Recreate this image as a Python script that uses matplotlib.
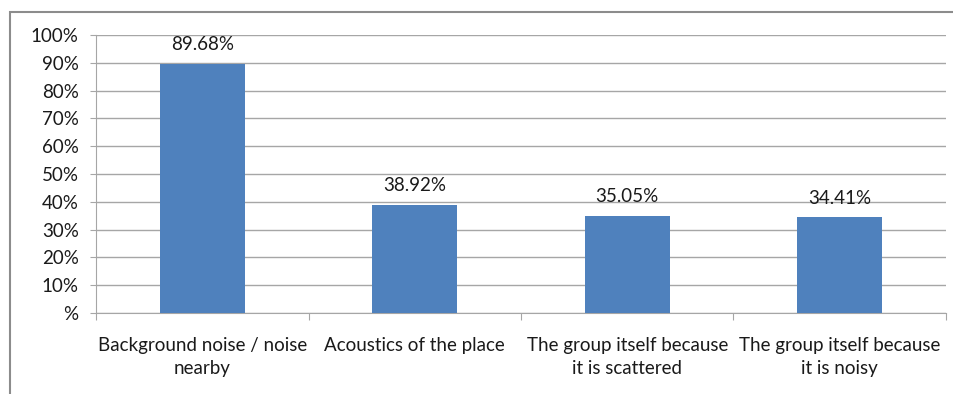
import matplotlib.pyplot as plt
from matplotlib.patches import Rectangle

categories = ['Background noise / noise\nnearby', 'Acoustics of the place',
              'The group itself because\nit is scattered', 'The group itself because\nit is noisy']
values = [89.68, 38.92, 35.05, 34.41]
yticks = [0, 10, 20, 30, 40, 50, 60, 70, 80, 90, 100]
ytick_labels = ['%'] + ['%d%%' % t for t in yticks[1:]]

plt.rcParams['font.family'] = ['Lato', 'DejaVu Sans']

W, H = 954, 394
fig = plt.figure(figsize=(W / 100, H / 100), dpi=100)
ax = fig.add_axes([96 / W, 1 - 313 / H, (946 - 96) / W, (313 - 35) / H])

# outer chart frame (cut off on the right and bottom)
fig.patches.append(Rectangle((10 / W, -0.1), 1.2, 1 - 12 / H + 0.1, transform=fig.transFigure,
                             fill=False, edgecolor='#8c8c8c', linewidth=1.5))

grid_color = '#a6a6a6'
text_color = '#1a1a1a'
fs = 13.5
x = range(len(categories))
ax.bar(x, values, width=0.4, color='#4f81bd', zorder=3)
for xi, v in zip(x, values):
    ax.text(xi, v + 3.8, '%.2f%%' % v, ha='center', va='bottom', fontsize=fs, color=text_color)

ax.set_xlim(-0.5, len(categories) - 0.5)
ax.set_ylim(0, 100)
ax.set_yticks(yticks)
ax.set_yticklabels(ytick_labels, fontsize=fs, color=text_color)
ax.yaxis.grid(True, color=grid_color, linewidth=1)
ax.set_axisbelow(True)

ax.set_xticks([i - 0.5 for i in range(len(categories) + 1)])
ax.set_xticklabels([])
ax.set_xticks(list(x), minor=True)
ax.set_xticklabels(categories, minor=True, fontsize=fs, color=text_color, linespacing=1.45)
ax.tick_params(axis='x', which='minor', length=0, pad=17)
ax.tick_params(axis='x', which='major', length=5, color=grid_color, direction='out')
ax.tick_params(axis='y', length=4.5, color=grid_color, pad=8)

for side in ['top', 'right']:
    ax.spines[side].set_visible(False)
for side in ['left', 'bottom']:
    ax.spines[side].set_color(grid_color)

fig.savefig('out.png', dpi=100)
